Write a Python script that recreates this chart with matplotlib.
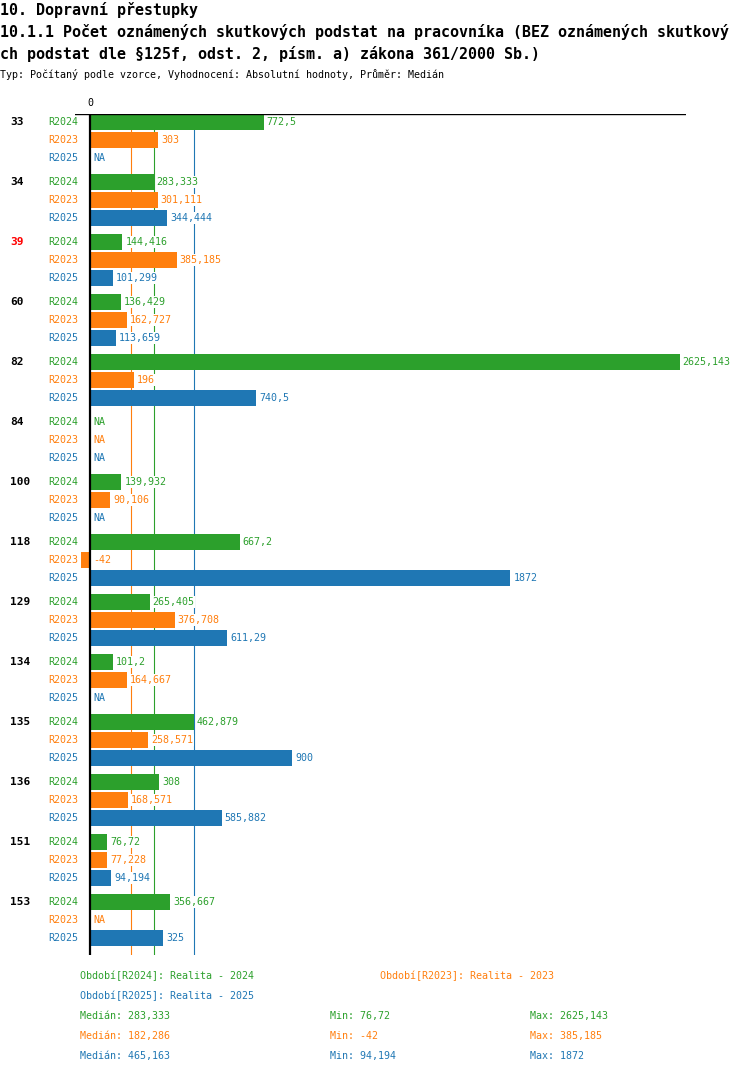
import numpy as np
from matplotlib import pyplot as plt

plt.rcParams["font.family"] = ["DejaVu Sans Mono"]

NA = np.nan
groups = ["33", "34", "39", "60", "82", "84", "100", "118", "129", "134", "135", "136", "151", "153"]
highlight = {"39": "red"}
periods = ["R2024", "R2023", "R2025"]
period_names = {"R2024": "Realita - 2024", "R2023": "Realita - 2023", "R2025": "Realita - 2025"}
colors = {"R2024": "#2ca02c", "R2023": "#ff7f0e", "R2025": "#1f77b4"}

r2024 = [772.5, 283.333, 144.416, 136.429, 2625.143, NA, 139.932, 667.2, 265.405, 101.2, 462.879, 308, 76.72, 356.667]
r2023 = [303, 301.111, 385.185, 162.727, 196, NA, 90.106, -42, 376.708, 164.667, 258.571, 168.571, 77.228, NA]
r2025 = [NA, 344.444, 101.299, 113.659, 740.5, NA, NA, 1872, 611.29, NA, 900, 585.882, 94.194, 325]
values = {"R2024": r2024, "R2023": r2023, "R2025": r2025}

title1 = "10. Dopravní přestupky"
title2 = "10.1.1 Počet oznámených skutkových podstat na pracovníka (BEZ oznámených skutkový"
title3 = "ch podstat dle §125f, odst. 2, písm. a) zákona 361/2000 Sb.)"
subtitle = "Typ: Počítaný podle vzorce, Vyhodnocení: Absolutní hodnoty, Průměr: Medián"


def fmt(v):
    s = f"{v:.3f}".rstrip("0").rstrip(".")
    return s.replace(".", ",")


W, H = 750, 1074
fig = plt.figure(figsize=(W / 100, H / 100), dpi=100)


def fx(x):
    return x / W


def fy(y):
    return 1 - y / H


# plot area in pixels
left, right, top, bottom = 75, 686, 114, 955
ax = fig.add_axes([fx(left), fy(bottom), (right - left) / W, (bottom - top) / H])
scale = 0.2246  # px per unit
ax.set_xlim(-(90 - left) / scale, (right - 90) / scale)
ax.set_ylim(bottom - top, 0)
ax.axis("off")

ax.axhline(0, color="black", lw=1.0, zorder=5)
ax.axvline(0, color="black", lw=1.6, zorder=5)

for p in periods:
    med = np.nanmedian(values[p])
    ax.axvline(med, color=colors[p], lw=0.8, zorder=1)

for gi, g in enumerate(groups):
    for ri, p in enumerate(periods):
        yc = 8 + gi * 60 + ri * 18
        v = values[p][gi]
        if not np.isnan(v):
            ax.barh(yc, v, height=16, color=colors[p], zorder=2)
            txt = fmt(v)
            xpos = max(v, 0)
        else:
            txt = "NA"
            xpos = 0
        ax.annotate(txt, (xpos, yc), xytext=(3, 0), textcoords="offset pixels",
                    ha="left", va="center", fontsize=7.2, color=colors[p], zorder=6,
                    annotation_clip=False,
                    bbox=dict(facecolor="white", edgecolor="none", pad=0.6))
        fig.text(fx(48), fy(top + yc), p, ha="left", va="center", fontsize=7.2, color=colors[p])
    fig.text(fx(10), fy(top + 8 + gi * 60), g, ha="left", va="center", fontsize=8,
             fontweight="bold", color=highlight.get(g, "black"))

fig.text(fx(90), fy(103), "0", ha="center", va="center", fontsize=7.2)

fig.text(fx(0), fy(15), title1, ha="left", va="baseline", fontsize=10.8, fontweight="bold")
fig.text(fx(0), fy(37), title2, ha="left", va="baseline", fontsize=10.8, fontweight="bold")
fig.text(fx(0), fy(59), title3, ha="left", va="baseline", fontsize=10.8, fontweight="bold")
fig.text(fx(0), fy(78), subtitle, ha="left", va="baseline", fontsize=7.2)

# legend
legend_pos = {"R2024": (80, 976), "R2023": (380, 976), "R2025": (80, 996)}
for p in periods:
    x, y = legend_pos[p]
    fig.text(fx(x), fy(y), f"Období[{p}]: {period_names[p]}", ha="left", va="center",
             fontsize=7.2, color=colors[p])

for i, p in enumerate(periods):
    y = 1016 + i * 20
    arr = np.array(values[p], dtype=float)
    fig.text(fx(80), fy(y), f"Medián: {fmt(np.nanmedian(arr))}", ha="left", va="center",
             fontsize=7.2, color=colors[p])
    fig.text(fx(330), fy(y), f"Min: {fmt(np.nanmin(arr))}", ha="left", va="center",
             fontsize=7.2, color=colors[p])
    fig.text(fx(530), fy(y), f"Max: {fmt(np.nanmax(arr))}", ha="left", va="center",
             fontsize=7.2, color=colors[p])

fig.savefig("out.png", dpi=100)
